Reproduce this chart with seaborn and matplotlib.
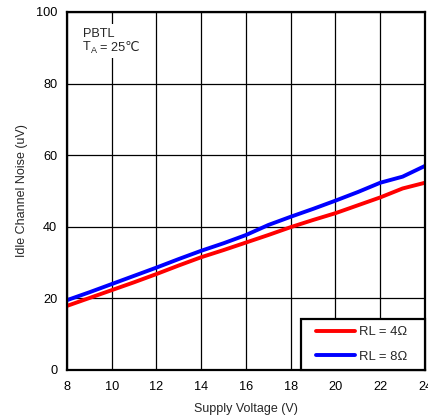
import matplotlib
matplotlib.use("Agg")
import matplotlib.pyplot as plt
from matplotlib.lines import Line2D
from matplotlib.legend_handler import HandlerLine2D
import seaborn as sns
import pandas as pd

# values
voltage = [8, 9, 10, 11, 12, 13, 14, 15, 16, 17, 18, 19, 20, 21, 22, 23, 24]
noise_4ohm = [17.9, 20.1, 22.3, 24.5, 26.8, 29.2, 31.5, 33.5, 35.6, 37.7, 39.9, 41.9, 43.8, 46.0, 48.2, 50.7, 52.3]
noise_8ohm = [19.5, 21.7, 24.0, 26.3, 28.6, 31.0, 33.3, 35.4, 37.7, 40.5, 42.8, 45.0, 47.3, 49.7, 52.3, 54.0, 57.0]
labels = ["RL = 4Ω", "RL = 8Ω"]
colors = ["#ff0000", "#0000ff"]

df = pd.concat([
    pd.DataFrame({"Supply Voltage (V)": voltage, "noise": noise_4ohm, "load": labels[0]}),
    pd.DataFrame({"Supply Voltage (V)": voltage, "noise": noise_8ohm, "load": labels[1]}),
])

sns.set_style("white")
plt.rcParams["font.family"] = ["Liberation Sans", "DejaVu Sans"]

fig = plt.figure(figsize=(4.28, 4.19), dpi=100)
ax = fig.add_axes([0.1565, 0.117, 0.8364, 0.8544])

sns.lineplot(data=df, x="Supply Voltage (V)", y="noise", hue="load",
             palette=dict(zip(labels, colors)), linewidth=2.8, ax=ax)

ax.set_xlim(8, 24)
ax.set_ylim(0, 100)
ax.set_xticks(range(8, 25, 2))
ax.set_yticks(range(0, 101, 20))
ax.grid(True, color="black", linewidth=0.9)
ax.set_axisbelow(True)
for s in ax.spines.values():
    s.set_linewidth(1.6)
    s.set_color("black")
ax.tick_params(axis="both", labelsize=9.2, length=0, colors="black")
ax.tick_params(axis="x", pad=8)
ax.tick_params(axis="y", pad=7)
ax.set_xlabel("Supply Voltage (V)", fontsize=9, labelpad=7)
ax.set_ylabel("Idle Channel Noise (uV)", fontsize=9, labelpad=6)

# condition note, top-left, white background hides the grid behind it
wbox = dict(facecolor="white", edgecolor="none", pad=3)
t1 = ax.text(0.044, 0.955, "PBTL", transform=ax.transAxes, fontsize=9.2,
             va="top", ha="left", bbox=wbox)
tT = ax.annotate("T", xy=(0, 0), xycoords=t1, xytext=(0, -1), textcoords="offset points",
                 fontsize=9.2, ha="left", va="top", bbox=wbox)
tA = ax.annotate("A", xy=(1, 0), xycoords=tT, xytext=(0.2, -1.2), textcoords="offset points",
                 fontsize=6.5, ha="left", va="bottom", zorder=6)
ax.annotate("= 25℃", xy=(1, 0), xycoords=(tA, tT), xytext=(2.2, 0), textcoords="offset points",
            fontsize=9.2, ha="left", va="bottom", bbox=wbox)

handles, _ = ax.get_legend_handles_labels()
leg = ax.legend(handles=handles[:2], labels=[l + "   " for l in labels],
                loc="lower right", fontsize=9.4, frameon=True, fancybox=False,
                edgecolor="black", framealpha=1, borderaxespad=0,
                handlelength=3.6, handletextpad=0.25, labelspacing=0.95,
                borderpad=0.55, handler_map={Line2D: HandlerLine2D(xpad=0.6)})
leg.get_frame().set_linewidth(1.6)
for line in leg.get_lines():
    line.set_linewidth(2.8)

fig.savefig("out.png", dpi=100)
